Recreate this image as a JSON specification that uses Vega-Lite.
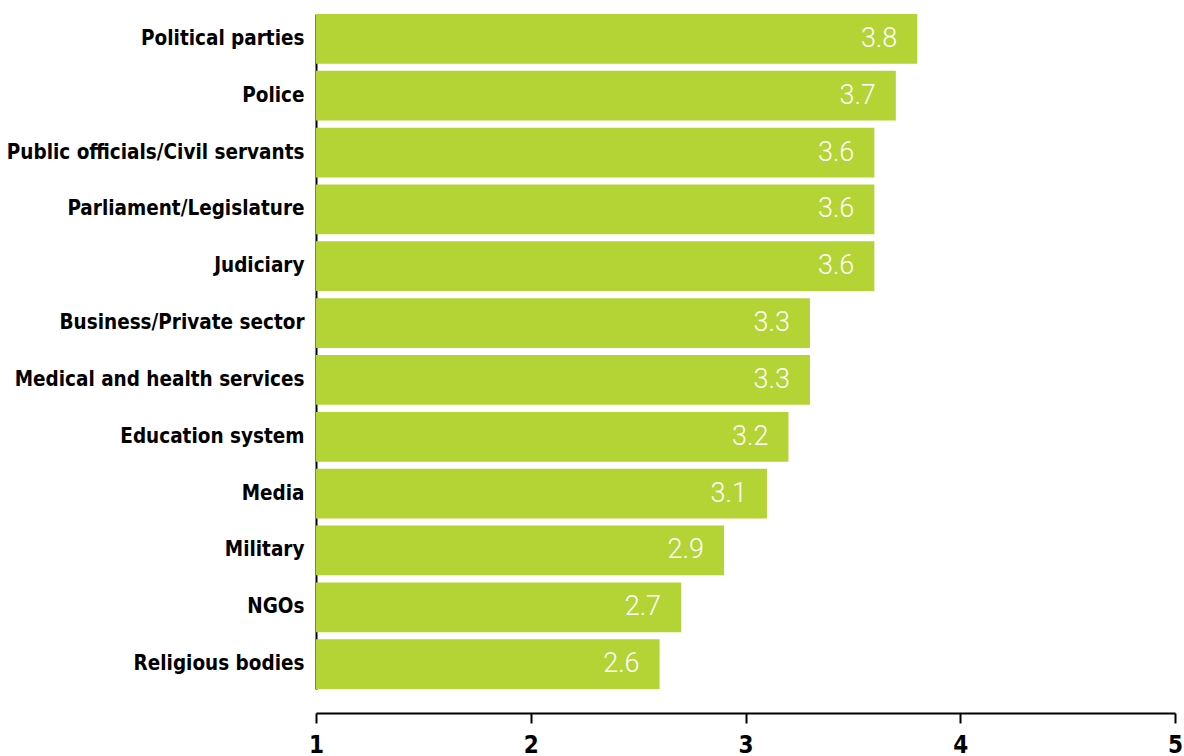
{
  "$schema": "https://vega.github.io/schema/vega-lite/v6.json",
  "autosize": {"type": "none"},
  "width": 859,
  "height": 699,
  "padding": {"top": 14, "left": 316, "right": 9, "bottom": 43},
  "background": "white",
  "config": {"view": {"stroke": null}},
  "data": {"values": [
    {"institution": "Political parties", "score": 3.8},
    {"institution": "Police", "score": 3.7},
    {"institution": "Public officials/Civil servants", "score": 3.6},
    {"institution": "Parliament/Legislature", "score": 3.6},
    {"institution": "Judiciary", "score": 3.6},
    {"institution": "Business/Private sector", "score": 3.3},
    {"institution": "Medical and health services", "score": 3.3},
    {"institution": "Education system", "score": 3.2},
    {"institution": "Media", "score": 3.1},
    {"institution": "Military", "score": 2.9},
    {"institution": "NGOs", "score": 2.7},
    {"institution": "Religious bodies", "score": 2.6}
  ]},
  "encoding": {
    "y": {
      "field": "institution", "type": "nominal", "sort": null, "title": null,
      "scale": {"range": [0, 675], "paddingInner": 0.125, "paddingOuter": 0},
      "axis": {"domain": true, "domainColor": "black", "domainWidth": 2, "ticks": false, "labelPadding": 12,
               "labelFont": "DejaVu Sans Condensed", "labelFontSize": 20.5, "labelFontWeight": "bold", "labelColor": "black", "labelLimit": 400}
    },
    "x": {
      "field": "score", "type": "quantitative", "title": null,
      "scale": {"domain": [1, 5], "zero": false, "nice": false},
      "axis": {"values": [1, 2, 3, 4, 5], "grid": false, "domainColor": "black", "domainWidth": 2, "tickColor": "black", "tickWidth": 2, "tickSize": 10, "labelPadding": 10,
               "labelFont": "DejaVu Sans Condensed", "labelFontSize": 24, "labelFontWeight": "bold", "labelColor": "black", "labelFlush": false}
    }
  },
  "layer": [
    {"mark": {"type": "bar", "color": "#b4d335"}, "encoding": {"x2": {"datum": 1}}},
    {"mark": {"type": "text", "align": "right", "baseline": "middle", "dx": -20, "color": "white", "font": "Roboto", "fontWeight": 300, "fontSize": 27},
     "encoding": {"text": {"field": "score", "type": "quantitative", "format": ".1f"}}}
  ]
}
